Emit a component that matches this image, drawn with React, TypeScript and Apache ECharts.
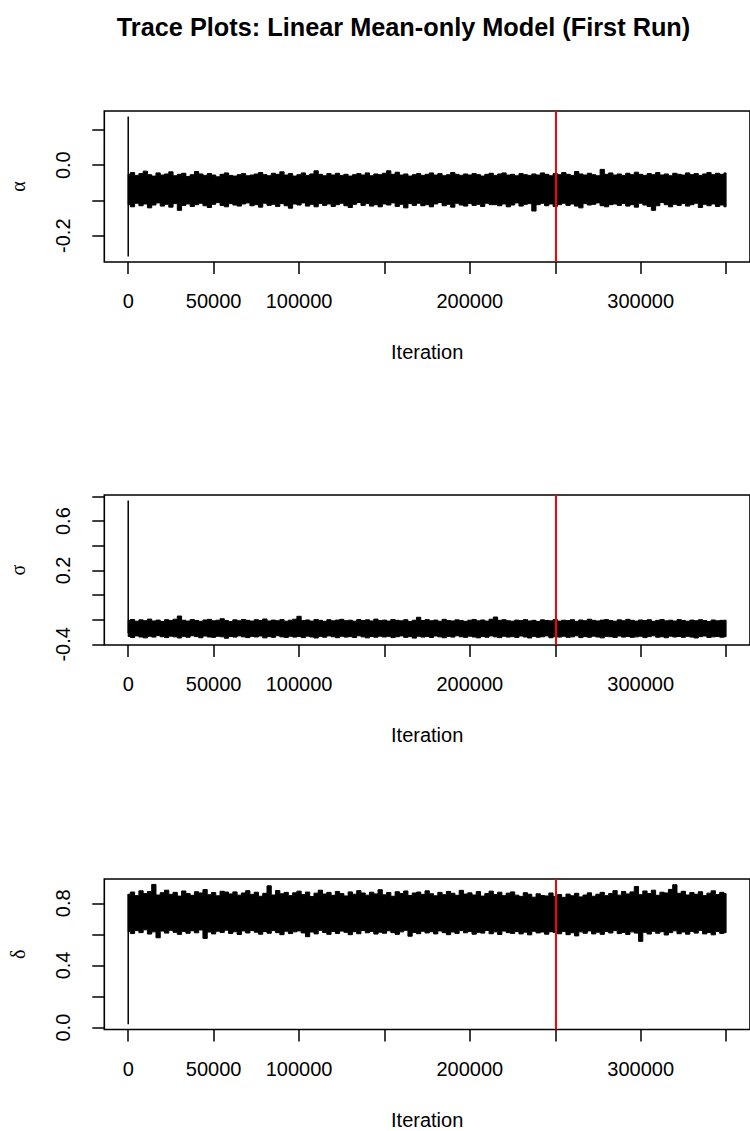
import React, { useEffect, useRef } from "react";
import * as echarts from "echarts";

// ---- MCMC trace summaries (upper / lower envelope of each chain, one value every ITER_STEP iterations) ----
const ITER_STEP = 2500;
const LAST_ITER = 350000;
const BURN_IN = 250000;

const xTicks = [0, 50000, 100000, 150000, 200000, 250000, 300000, 350000];
const xTickLabels = [0, 50000, 100000, 200000, 300000];

// alpha
const alphaStart = [0.138, -0.259];
const alphaHigh = [
  -0.026, -0.021, -0.029, -0.024, -0.017, -0.027, -0.031, -0.022, -0.028, -0.025,
  -0.019, -0.030, -0.026, -0.023, -0.032, -0.027, -0.018, -0.025, -0.029, -0.024,
  -0.028, -0.033, -0.026, -0.022, -0.029, -0.031, -0.027, -0.024, -0.030, -0.028,
  -0.025, -0.021, -0.027, -0.030, -0.023, -0.026, -0.019, -0.028, -0.024, -0.031,
  -0.027, -0.022, -0.029, -0.025, -0.016, -0.026, -0.030, -0.024, -0.028, -0.023,
  -0.029, -0.026, -0.031, -0.027, -0.024, -0.028, -0.022, -0.030, -0.025, -0.027,
  -0.023, -0.016, -0.026, -0.020, -0.028, -0.025, -0.031, -0.027, -0.024, -0.029,
  -0.026, -0.022, -0.028, -0.024, -0.030, -0.027, -0.021, -0.026, -0.029, -0.025,
  -0.028, -0.024, -0.027, -0.031, -0.026, -0.023, -0.029, -0.025, -0.022, -0.028,
  -0.026, -0.030, -0.024, -0.027, -0.029, -0.025, -0.028, -0.022, -0.026, -0.030,
  -0.024, -0.027, -0.021, -0.026, -0.029, -0.018, -0.025, -0.028, -0.023, -0.027,
  -0.030, -0.012, -0.026, -0.022, -0.028, -0.025, -0.029, -0.023, -0.027, -0.020,
  -0.026, -0.029, -0.024, -0.027, -0.021, -0.028, -0.025, -0.030, -0.023, -0.026,
  -0.028, -0.022, -0.027, -0.024, -0.029, -0.025, -0.021, -0.027, -0.023, -0.026,
  -0.022,
];
const alphaLow = [
  -0.112, -0.118, -0.108, -0.115, -0.110, -0.121, -0.113, -0.107, -0.116, -0.111,
  -0.119, -0.109, -0.128, -0.114, -0.110, -0.117, -0.112, -0.108, -0.115, -0.120,
  -0.111, -0.106, -0.114, -0.118, -0.109, -0.113, -0.116, -0.110, -0.107, -0.115,
  -0.112, -0.119, -0.108, -0.114, -0.111, -0.117, -0.109, -0.115, -0.122, -0.110,
  -0.113, -0.107, -0.116, -0.111, -0.118, -0.109, -0.114, -0.110, -0.117, -0.112,
  -0.108, -0.115, -0.120, -0.111, -0.106, -0.114, -0.109, -0.116, -0.112, -0.118,
  -0.110, -0.113, -0.107, -0.117, -0.111, -0.121, -0.109, -0.114, -0.108, -0.115,
  -0.112, -0.118, -0.110, -0.106, -0.115, -0.111, -0.119, -0.108, -0.113, -0.116,
  -0.109, -0.114, -0.111, -0.117, -0.108, -0.112, -0.112, -0.115, -0.110, -0.118,
  -0.113, -0.107, -0.116, -0.111, -0.109, -0.130, -0.112, -0.108, -0.115, -0.110,
  -0.117, -0.112, -0.108, -0.114, -0.110, -0.116, -0.121, -0.109, -0.113, -0.111,
  -0.107, -0.115, -0.118, -0.112, -0.110, -0.114, -0.109, -0.116, -0.112, -0.119,
  -0.108, -0.113, -0.117, -0.128, -0.115, -0.106, -0.112, -0.118, -0.111, -0.114,
  -0.109, -0.116, -0.112, -0.108, -0.120, -0.111, -0.115, -0.110, -0.117, -0.113,
  -0.118,
];
const alphaTicks = [-0.2, -0.1, 0, 0.1];
const alphaTickLabels = [-0.2, 0];

// sigma
const sigmaStart = [0.767, -0.31];
const sigmaHigh = [
  -0.205, -0.198, -0.212, -0.201, -0.208, -0.195, -0.210, -0.203, -0.214, -0.200,
  -0.207, -0.196, -0.170, -0.204, -0.211, -0.199, -0.206, -0.213, -0.202, -0.197,
  -0.209, -0.204, -0.192, -0.207, -0.215, -0.201, -0.208, -0.198, -0.205, -0.211,
  -0.200, -0.206, -0.194, -0.210, -0.203, -0.208, -0.199, -0.212, -0.204, -0.196,
  -0.172, -0.207, -0.202, -0.211, -0.198, -0.205, -0.213, -0.200, -0.209, -0.203,
  -0.197, -0.208, -0.204, -0.212, -0.199, -0.206, -0.201, -0.210, -0.195, -0.207,
  -0.203, -0.211, -0.198, -0.205, -0.209, -0.200, -0.214, -0.204, -0.180, -0.206,
  -0.199, -0.208, -0.203, -0.212, -0.197, -0.206, -0.210, -0.201, -0.207, -0.213,
  -0.204, -0.198, -0.209, -0.202, -0.211, -0.196, -0.178, -0.205, -0.200, -0.208,
  -0.212, -0.203, -0.207, -0.199, -0.210, -0.205, -0.214, -0.201, -0.206, -0.209,
  -0.198, -0.211, -0.204, -0.207, -0.200, -0.213, -0.202, -0.208, -0.196, -0.205,
  -0.210, -0.203, -0.199, -0.206, -0.212, -0.201, -0.208, -0.197, -0.205, -0.211,
  -0.202, -0.207, -0.200, -0.213, -0.205, -0.198, -0.209, -0.204, -0.211, -0.199,
  -0.206, -0.212, -0.203, -0.208, -0.200, -0.207, -0.214, -0.202, -0.209, -0.205,
  -0.204,
];
const sigmaLow = [
  -0.336, -0.344, -0.331, -0.340, -0.347, -0.334, -0.341, -0.329, -0.338, -0.345,
  -0.333, -0.339, -0.348, -0.335, -0.342, -0.330, -0.337, -0.346, -0.332, -0.340,
  -0.343, -0.334, -0.338, -0.350, -0.336, -0.341, -0.331, -0.339, -0.345, -0.335,
  -0.340, -0.332, -0.347, -0.337, -0.343, -0.330, -0.339, -0.344, -0.334, -0.341,
  -0.336, -0.345, -0.333, -0.340, -0.348, -0.335, -0.342, -0.331, -0.338, -0.346,
  -0.334, -0.341, -0.337, -0.344, -0.330, -0.339, -0.347, -0.336, -0.342, -0.333,
  -0.340, -0.335, -0.345, -0.338, -0.331, -0.343, -0.337, -0.349, -0.334, -0.341,
  -0.336, -0.344, -0.332, -0.339, -0.346, -0.335, -0.341, -0.330, -0.338, -0.343,
  -0.333, -0.340, -0.347, -0.336, -0.342, -0.331, -0.339, -0.345, -0.334, -0.341,
  -0.337, -0.344, -0.332, -0.340, -0.348, -0.335, -0.342, -0.338, -0.331, -0.346,
  -0.336, -0.341, -0.334, -0.343, -0.339, -0.330, -0.345, -0.337, -0.342, -0.333,
  -0.340, -0.347, -0.335, -0.338, -0.344, -0.332, -0.341, -0.336, -0.343, -0.339,
  -0.334, -0.345, -0.337, -0.330, -0.342, -0.338, -0.346, -0.333, -0.340, -0.336,
  -0.343, -0.335, -0.341, -0.348, -0.337, -0.332, -0.344, -0.339, -0.336, -0.342,
  -0.338,
];
const sigmaTicks = [-0.4, -0.2, 0, 0.2, 0.4, 0.6, 0.8];
const sigmaTickLabels = [-0.4, 0.2, 0.6];

// delta
const deltaStart = [0.022, 0.86];
const deltaHigh = [
  0.858, 0.872, 0.849, 0.880, 0.862, 0.875, 0.921, 0.853, 0.868, 0.884,
  0.857, 0.870, 0.846, 0.879, 0.863, 0.851, 0.874, 0.866, 0.888, 0.855,
  0.869, 0.848, 0.877, 0.872, 0.860, 0.873, 0.852, 0.866, 0.881, 0.857,
  0.871, 0.845, 0.864, 0.912, 0.853, 0.882, 0.861, 0.870, 0.849, 0.867,
  0.878, 0.856, 0.872, 0.843, 0.865, 0.884, 0.859, 0.870, 0.851, 0.876,
  0.862, 0.847, 0.873, 0.858, 0.881, 0.866, 0.852, 0.871, 0.860, 0.887,
  0.854, 0.869, 0.845, 0.874, 0.863, 0.879, 0.850, 0.866, 0.872, 0.857,
  0.880, 0.861, 0.848, 0.870, 0.855, 0.876, 0.864, 0.851, 0.883, 0.859,
  0.867, 0.853, 0.875, 0.846, 0.862, 0.878, 0.856, 0.871, 0.849, 0.865,
  0.873, 0.852, 0.844, 0.868, 0.858, 0.839, 0.861, 0.850, 0.847, 0.866,
  0.843, 0.856, 0.838, 0.859, 0.848, 0.864, 0.841, 0.853, 0.867, 0.845,
  0.858, 0.870, 0.849, 0.863, 0.881, 0.852, 0.876, 0.860, 0.873, 0.908,
  0.855, 0.879, 0.862, 0.884, 0.851, 0.871, 0.866, 0.889, 0.919, 0.864,
  0.877, 0.853, 0.869, 0.858, 0.874, 0.849, 0.865, 0.880, 0.856, 0.870,
  0.862,
];
const deltaLow = [
  0.618, 0.605, 0.624, 0.611, 0.629, 0.602, 0.616, 0.578, 0.621, 0.608,
  0.626, 0.613, 0.600, 0.619, 0.607, 0.623, 0.610, 0.628, 0.574, 0.615,
  0.603, 0.620, 0.612, 0.627, 0.606, 0.617, 0.599, 0.622, 0.609, 0.625,
  0.614, 0.601, 0.618, 0.607, 0.624, 0.611, 0.598, 0.620, 0.605, 0.616,
  0.622, 0.609, 0.585, 0.615, 0.603, 0.626, 0.612, 0.600, 0.619, 0.606,
  0.621, 0.613, 0.598, 0.617, 0.604, 0.625, 0.610, 0.619, 0.602, 0.614,
  0.607, 0.623, 0.611, 0.600, 0.616, 0.626, 0.588, 0.612, 0.604, 0.620,
  0.609, 0.617, 0.603, 0.622, 0.611, 0.598, 0.615, 0.606, 0.624, 0.610,
  0.619, 0.601, 0.613, 0.608, 0.625, 0.604, 0.616, 0.599, 0.621, 0.611,
  0.606, 0.618, 0.603, 0.614, 0.597, 0.620, 0.609, 0.615, 0.601, 0.617,
  0.612, 0.604, 0.619, 0.598, 0.610, 0.590, 0.616, 0.607, 0.622, 0.603,
  0.614, 0.600, 0.618, 0.609, 0.624, 0.605, 0.612, 0.599, 0.616, 0.608,
  0.555, 0.613, 0.602, 0.620, 0.607, 0.617, 0.596, 0.611, 0.623, 0.604,
  0.615, 0.601, 0.619, 0.608, 0.625, 0.603, 0.612, 0.597, 0.618, 0.606,
  0.611,
];
const deltaTicks = [0, 0.2, 0.4, 0.6, 0.8];
const deltaTickLabels = [0, 0.4, 0.8];

const SANS = '"Liberation Sans", Arial, Helvetica, sans-serif';
const SERIF = '"Liberation Serif", "Times New Roman", "DejaVu Serif", serif';

type Panel = {
  symbol: string;
  high: number[];
  low: number[];
  start: number[];
  ticks: number[];
  tickLabels: number[];
  yMin: number;
  yMax: number;
  top: number;
  height: number;
};

const panels: Panel[] = [
  { symbol: "α", high: alphaHigh, low: alphaLow, start: alphaStart, ticks: alphaTicks, tickLabels: alphaTickLabels, yMin: -0.2745, yMax: 0.1535, top: 111, height: 151 },
  { symbol: "σ", high: sigmaHigh, low: sigmaLow, start: sigmaStart, ticks: sigmaTicks, tickLabels: sigmaTickLabels, yMin: -0.405, yMax: 0.812, top: 495, height: 150 },
  { symbol: "δ", high: deltaHigh, low: deltaLow, start: deltaStart, ticks: deltaTicks, tickLabels: deltaTickLabels, yMin: -0.012, yMax: 0.956, top: 879, height: 150.5 },
];

// stepped outline of the envelope: each summary value covers its own ITER_STEP slot
function envelopePoints(api: any, high: number[], low: number[]) {
  const half = ITER_STEP / 2;
  const clampX = (x: number) => Math.max(0, Math.min(LAST_ITER, x));
  const pts: number[][] = [];
  for (let i = 0; i < high.length; i++) {
    const c = i * ITER_STEP;
    pts.push(api.coord([clampX(c - half), high[i]]));
    pts.push(api.coord([clampX(c + half), high[i]]));
  }
  for (let i = low.length - 1; i >= 0; i--) {
    const c = i * ITER_STEP;
    pts.push(api.coord([clampX(c + half), low[i]]));
    pts.push(api.coord([clampX(c - half), low[i]]));
  }
  return pts;
}

function buildOption() {
  const grid: any[] = [];
  const xAxis: any[] = [];
  const yAxis: any[] = [];
  const series: any[] = [];

  panels.forEach((p, k) => {
    grid.push({
      left: 104.3,
      width: 649.3,
      top: p.top,
      height: p.height,
      show: true,
      borderColor: "#000",
      borderWidth: 1.6,
      backgroundColor: "transparent",
    });
    xAxis.push({
      type: "value",
      gridIndex: k,
      min: -14000,
      max: 364000,
      axisLine: { show: false, onZero: false },
      splitLine: { show: false },
      axisTick: {
        show: true,
        inside: false,
        length: 12,
        customValues: xTicks,
        lineStyle: { color: "#000", width: 1.5 },
      },
      axisLabel: {
        customValues: xTickLabels,
        formatter: (v: number) => String(v),
        fontSize: 20,
        fontFamily: SANS,
        color: "#000",
        margin: 29,
      },
      name: "Iteration",
      nameLocation: "middle",
      nameGap: 80,
      nameTextStyle: { fontSize: 20, fontFamily: SANS, color: "#000" },
    });
    yAxis.push({
      type: "value",
      gridIndex: k,
      min: p.yMin,
      max: p.yMax,
      axisLine: { show: false, onZero: false },
      splitLine: { show: false },
      axisTick: {
        show: true,
        inside: false,
        length: 12,
        customValues: p.ticks,
        lineStyle: { color: "#000", width: 1.5 },
      },
      axisLabel: {
        customValues: p.tickLabels,
        formatter: (v: number) => v.toFixed(1),
        rotate: 90,
        fontSize: 20,
        fontFamily: SANS,
        color: "#000",
        margin: 31,
      },
      name: p.symbol,
      nameLocation: "middle",
      nameRotate: 90,
      nameGap: 76,
      nameTextStyle: { fontSize: 20, fontFamily: SERIF, color: "#000" },
    });

    // dense post-start portion of the chain, drawn as a filled envelope
    const high = p.high;
    const low = p.low;
    series.push({
      type: "custom",
      xAxisIndex: k,
      yAxisIndex: k,
      silent: true,
      z: 2,
      data: [[0, 0]],
      renderItem: (_params: any, api: any) => ({
        type: "polygon",
        shape: { points: envelopePoints(api, high, low) },
        style: { fill: "#000", stroke: "#000", lineWidth: 1, lineJoin: "miter" },
      }),
    });

    // initial jump of the chain plus the burn-in marker
    series.push({
      type: "line",
      xAxisIndex: k,
      yAxisIndex: k,
      silent: true,
      z: 3,
      symbol: "none",
      data: p.start.map((v) => [0, v]),
      lineStyle: { color: "#000", width: 1.5 },
      markLine: {
        silent: true,
        symbol: ["none", "none"],
        label: { show: false },
        lineStyle: { color: "#ff0000", width: 2, type: "solid" },
        data: [{ xAxis: BURN_IN }],
      },
    });
  });

  return {
    animation: false,
    backgroundColor: "#fff",
    graphic: [
      {
        type: "text",
        x: 403.5,
        y: 27,
        style: {
          text: "Trace Plots: Linear Mean-only Model (First Run)",
          textAlign: "center",
          textVerticalAlign: "middle",
          fontSize: 25.3,
          fontWeight: "bold",
          fontFamily: SANS,
          fill: "#000",
        },
      },
    ],
    grid,
    xAxis,
    yAxis,
    series,
  };
}

export default function App() {
  const ref = useRef<HTMLDivElement>(null);
  useEffect(() => {
    if (!ref.current) return;
    const chart = echarts.init(ref.current, null, { renderer: "svg" });
    chart.setOption(buildOption() as any);
    return () => chart.dispose();
  }, []);
  return (
    <div
      ref={ref}
      style={{ position: "absolute", left: 0, top: 0, width: 750, height: 1131, background: "#fff" }}
    />
  );
}
